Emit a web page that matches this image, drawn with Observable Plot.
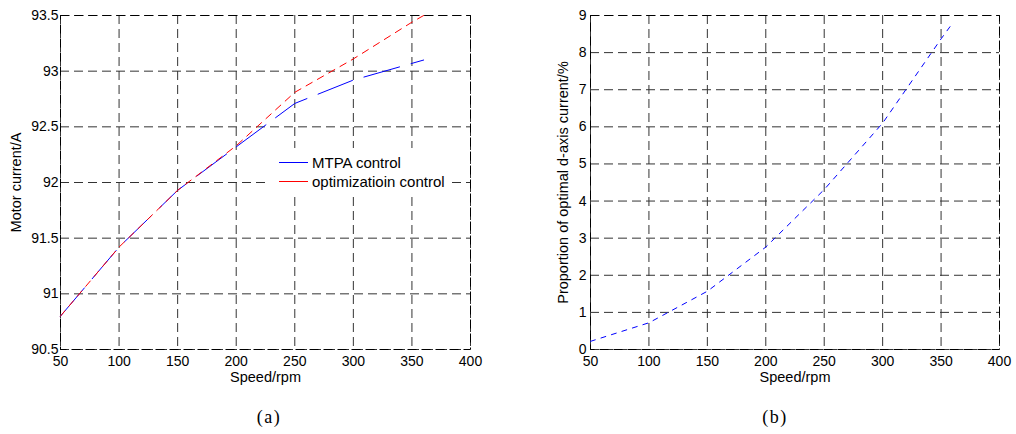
<!DOCTYPE html>
<html>
<head>
<meta charset="utf-8">
<script src="https://cdn.jsdelivr.net/npm/d3@7"></script>
<script src="https://cdn.jsdelivr.net/npm/@observablehq/plot@0.6"></script>
<style>
  html, body { margin: 0; padding: 0; background: #fff; }
  #wrap { position: relative; width: 1016px; height: 434px; overflow: hidden; font-family: "Liberation Sans", Arial, sans-serif; }
  .panel { position: absolute; top: 0; }
  .legend { position: absolute; left: 270px; top: 148px; width: 178px; height: 45px; background: #fff; }
  .legend .row { position: absolute; left: 0; height: 18px; display: flex; align-items: center; font-size: 15px; color: #000; white-space: nowrap; }
  .legend .sw { width: 29px; height: 0; margin-left: 9px; margin-right: 4px; border-top: 1px solid; }
  .cap { position: absolute; top: 407px; font-family: "Liberation Serif", "Times New Roman", serif; font-size: 18px; letter-spacing: 1.5px; color: #000; transform: translateX(-50%); }
</style>
</head>
<body>
<div id="wrap"></div>
<script>
// ---- data ----
const speedTicks = [50, 100, 150, 200, 250, 300, 350, 400];
const currentTicks = [90.5, 91, 91.5, 92, 92.5, 93, 93.5];
const percentTicks = [0, 1, 2, 3, 4, 5, 6, 7, 8, 9];

const speeds = [50, 100, 150, 200, 250, 300, 350, 360];
const mtpaCurrent = [90.8, 91.42, 91.93, 92.32, 92.71, 92.92, 93.07, 93.1];
const optCurrent = [90.8, 91.42, 91.93, 92.33, 92.81, 93.11, 93.44, 93.5];
const dAxisPercent = [0.22, 0.72, 1.57, 2.76, 4.31, 6.1, 8.37, 8.8];

const seriesNames = ["MTPA control", "optimizatioin control"];
const seriesColors = ["#0000ff", "#ff0000"];

const leftYLabel = "Motor current/A";
const rightYLabel = "Proportion of optimal d-axis current/%";
const xLabel = "Speed/rpm";
const captions = ["(a)", "(b)"];

// ---- build ----
const wrap = document.getElementById("wrap");
const gridDash = "9,5";
const fmt = d => String(d);

const mtpaData = speeds.map((s, i) => ({speed: s, value: mtpaCurrent[i]}));
const optData = speeds.map((s, i) => ({speed: s, value: optCurrent[i]}));
const pctData = speeds.map((s, i) => ({speed: s, value: dAxisPercent[i]}));

function panel({yDomain, yTicks, marks, marginLeft, marginRight, yLabel, yLabelDx, yPad}) {
  return Plot.plot({
    width: 508,
    height: 390,
    marginLeft, marginRight,
    marginTop: 15,
    marginBottom: 41,
    style: {fontFamily: '"Liberation Sans", Arial, sans-serif', fontSize: "14px", color: "#000", background: "transparent", overflow: "visible"},
    x: {domain: [50, 400]},
    y: {domain: yDomain},
    marks: [
      Plot.gridX(speedTicks, {stroke: "#333", strokeOpacity: 1, strokeDasharray: gridDash}),
      Plot.gridY(yTicks, {stroke: "#333", strokeOpacity: 1, strokeDasharray: gridDash}),
      Plot.frame({stroke: "#000", strokeDasharray: gridDash}),
      Plot.axisX(speedTicks, {tickSize: 0, tickPadding: 7, tickFormat: fmt, label: null, fontSize: 14}),
      Plot.axisY(yTicks, {tickSize: 0, tickPadding: yPad, tickFormat: fmt, label: null, fontSize: 14}),
      ...marks,
      Plot.text([xLabel], {frameAnchor: "bottom", dy: 28, lineAnchor: "middle", textAnchor: "middle", fontSize: 14.5, fill: "#000"}),
      Plot.text([yLabel], {frameAnchor: "left", rotate: -90, dx: yLabelDx, lineAnchor: "middle", textAnchor: "middle", fontSize: 14.5, fill: "#000"})
    ]
  });
}

const left = panel({
  yDomain: [90.5, 93.5], yTicks: currentTicks, marginLeft: 60, marginRight: 38,
  yLabel: leftYLabel, yLabelDx: -44, yPad: 2,
  marks: [
    Plot.line(mtpaData, {x: "speed", y: "value", stroke: seriesColors[0], strokeWidth: 1, strokeDasharray: "37,12"}),
    Plot.line(optData, {x: "speed", y: "value", stroke: seriesColors[1], strokeWidth: 1, strokeDasharray: "7,6"})
  ]
});
const right = panel({
  yDomain: [0, 9], yTicks: percentTicks, marginLeft: 82, marginRight: 17,
  yLabel: rightYLabel, yLabelDx: -27, yPad: 4,
  marks: [
    Plot.line(pctData, {x: "speed", y: "value", stroke: seriesColors[0], strokeWidth: 1, strokeDasharray: "5,6"})
  ]
});

const lp = document.createElement("div"); lp.className = "panel"; lp.style.left = "0px"; lp.appendChild(left);
const rp = document.createElement("div"); rp.className = "panel"; rp.style.left = "508px"; rp.appendChild(right);
wrap.appendChild(lp); wrap.appendChild(rp);

// legend
const leg = document.createElement("div"); leg.className = "legend";
seriesNames.forEach((name, i) => {
  const row = document.createElement("div"); row.className = "row";
  row.style.top = (5 + i * 19) + "px";
  const sw = document.createElement("span"); sw.className = "sw"; sw.style.borderTopColor = seriesColors[i];
  const tx = document.createElement("span"); tx.textContent = name;
  row.appendChild(sw); row.appendChild(tx); leg.appendChild(row);
});
wrap.appendChild(leg);

// captions
[269, 775].forEach((x, i) => {
  const c = document.createElement("div"); c.className = "cap"; c.style.left = x + "px"; c.textContent = captions[i];
  wrap.appendChild(c);
});
</script>
</body>
</html>
